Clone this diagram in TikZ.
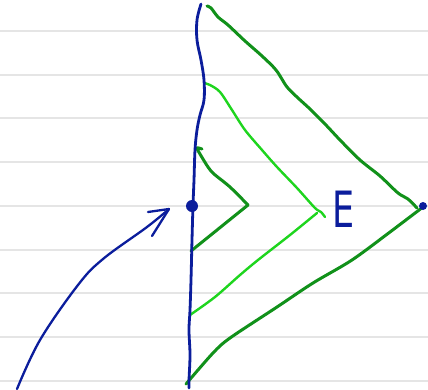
\documentclass[tikz,border=0pt]{standalone}
\usepackage{fontspec}
\setsansfont{DejaVu Sans}
\begin{document}
\begin{tikzpicture}[x=1pt,y=-1pt,
  ruled/.style={draw=black!10,line width=1.2pt},
  pen/.style={line width=2.8pt,line cap=round,line join=round},
  inkblue/.style={pen,draw=penblue},
  darkg/.style={pen,draw=pendark,line width=3pt},
  lightg/.style={pen,draw=penlight,line width=2.4pt}]
\definecolor{penblue}{HTML}{0B1D9C}
\definecolor{pendark}{HTML}{11911A}
\definecolor{penlight}{HTML}{1ED51E}
\useasboundingbox (0,0) rectangle (428,389);
\fill[white] (0,0) rectangle (428,389);
% lined paper
\foreach \yy in {31,75,118,162,206,250,293,337,381}
  \draw[ruled] (0,\yy) -- (428,\yy);
% outer dark green chevron
\draw[darkg] plot[smooth,tension=0.5] coordinates {(207,6) (211,8) (218,17) (228,25) (245,41) (262,56) (276,70) (287,87) (298,98) (310,109) (325,124) (340,140) (360,160) (380,176) (398,193) (408,199) (417,208)};
\draw[darkg] plot[smooth,tension=0.5] coordinates {(423,207) (390,232) (352,260) (313,283) (277,307) (230,338) (213,353) (186,384)};
% middle light green chevron
\draw[lightg] plot[smooth,tension=0.5] coordinates {(204,83) (210,85) (220,92) (232,110) (245,130) (262,150) (277,167) (297,188) (315,208) (321,212) (325,217)};
\draw[lightg] plot[smooth,tension=0.5] coordinates {(317,213) (290,235) (258,260) (240,275) (215,297) (190,315)};
% inner dark green chevron
\draw[darkg] plot[smooth,tension=0.5] coordinates {(202,149) (197,148) (200,154) (208,167) (214,174) (230,187) (248,205)};
\draw[darkg] (248,205) -- (191,251);
% blue vertical line
\draw[inkblue] plot[smooth,tension=0.6] coordinates {(201,4) (197,20) (197,40) (201,60) (204,80) (204,100) (200,115) (197,130) (195,150) (194,180) (193,205) (192,240) (191,280) (190,310) (189,330) (190,355) (189,380) (189,388)};
% dots
\coordinate (pivot) at (192,206);
\coordinate (apex) at (423,206);
\fill[penblue] (pivot) circle (6);
\fill[penblue] (apex) circle (4);
% label E
\node[text=penblue,font=\sffamily\fontsize{50}{50}\selectfont,inner sep=0pt,xscale=0.7] (lab) at (344,209) {E};
% arrow
\coordinate (tail) at (17,389);
\coordinate (tip) at (169,209);
\draw[inkblue,line width=2.3pt] plot[smooth,tension=0.6] coordinates {(tail) (40,340) (78,285) (103,259) (147,227) (tip)};
\draw[inkblue,line width=2.3pt] (148,212) -- (tip) -- (152,236);
\end{tikzpicture}
\end{document}
